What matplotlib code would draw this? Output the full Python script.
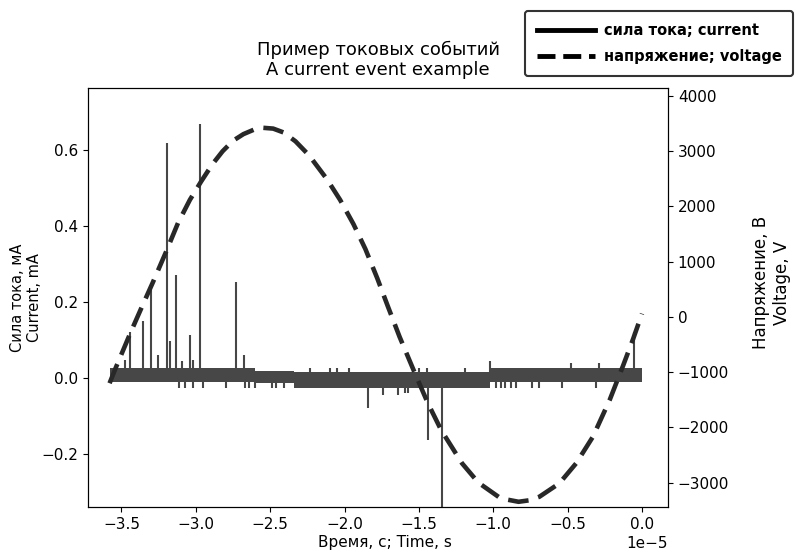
import matplotlib
matplotlib.use("Agg")
import matplotlib.pyplot as plt
from matplotlib.lines import Line2D
import numpy as np

# time in units of 1e-5 s
volt_t = [-3.58, -3.54, -3.44, -3.36, -3.29, -3.20, -3.12, -3.04, -2.965,
          -2.89, -2.82, -2.75, -2.68, -2.61, -2.546, -2.48, -2.41, -2.33,
          -2.24, -2.12, -2.03, -1.94, -1.86, -1.78, -1.71, -1.63, -1.53,
          -1.44, -1.35, -1.21, -1.10, -0.963, -0.90, -0.83, -0.76, -0.69,
          -0.556, -0.443, -0.33, -0.217, -0.127, -0.06, 0.0]
volt_v = [-1200, -930, -290, 200, 620, 1180, 1700, 2120, 2450,
          2760, 3000, 3190, 3310, 3390, 3424, 3410, 3340, 3180,
          2930, 2500, 2120, 1680, 1230, 700, 200, -360, -1000,
          -1560, -2050, -2650, -3000, -3260, -3310, -3346, -3320, -3255,
          -3013, -2650, -2168, -1500, -880, -400, 60]

# noise band of the current trace (step segments)
band_edges = [-3.58, -2.60, -2.34, -1.02, 0.0]
band_top = [0.026, 0.017, 0.014, 0.026]
band_bottom = [-0.011, -0.015, -0.027, -0.011]

# current events, mA
spike_t = [-3.474, -3.440, -3.353, -3.304, -3.252, -3.197, -3.175, -3.134,
           -3.094, -3.040, -3.021, -2.972, -2.727, -2.678,
           -2.23, -2.10, -2.05, -1.97, -1.50, -1.445, -1.19,
           -1.02, -0.48, -0.29, -0.055,
           -3.11, -3.07, -3.02, -2.95, -2.80, -2.67, -2.64, -2.60,
           -2.49, -2.46, -2.41,
           -1.845, -1.743, -1.64, -1.594, -1.574, -1.438, -1.348,
           -0.98, -0.95, -0.92, -0.88, -0.85, -0.74, -0.69, -0.54, -0.31]
spike_i = [0.047, 0.12, 0.149, 0.245, 0.06, 0.62, 0.096, 0.272,
           0.043, 0.113, 0.047, 0.668, 0.252, 0.06,
           0.026, 0.026, 0.026, 0.026, 0.026, 0.026, 0.026,
           0.043, 0.04, 0.04, 0.12,
           -0.027, -0.027, -0.027, -0.027, -0.027, -0.027, -0.027, -0.027,
           -0.027, -0.027, -0.027,
           -0.08, -0.045, -0.045, -0.04, -0.04, -0.164, -0.36,
           -0.027, -0.027, -0.027, -0.027, -0.027, -0.027, -0.027, -0.027,
           -0.027]

scale = 1e-5
cur_color = "#474747"
volt_color = "#282828"

plt.rcParams["xtick.labelsize"] = 11
plt.rcParams["ytick.labelsize"] = 11

fig = plt.figure(figsize=(7.95, 5.51), dpi=100)
ax = fig.add_axes([0.1107, 0.0799, 0.7296, 0.7604])

edges = np.array(band_edges) * scale
top = band_top + [band_top[-1]]
bot = band_bottom + [band_bottom[-1]]
ax.fill_between(edges, bot, top, step="post", color=cur_color, lw=0)
ax.vlines(np.array(spike_t) * scale, 0, spike_i, color=cur_color, lw=1.5)

ax.set_xlim(-3.725 * scale, 0.175 * scale)
ax.set_ylim(-0.341, 0.764)
ax.set_yticks([-0.2, 0.0, 0.2, 0.4, 0.6])
ax.set_xticks(np.arange(-3.5, 0.01, 0.5) * scale)
ax.xaxis.get_offset_text().set_fontsize(11)
ax.set_xlabel("Время, с; Time, s", fontsize=11)
ax.xaxis.set_label_coords(0.512, -0.066)
ax.set_ylabel("Сила тока, мА\nCurrent, mA", fontsize=10.5)
ax.yaxis.set_label_coords(-0.079, 0.5)
ax.set_title("Пример токовых событий\nA current event example",
             fontsize=13, pad=9)

ax2 = ax.twinx()
ax2.plot(np.array(volt_t) * scale, volt_v, color=volt_color, lw=3.3,
         linestyle=(0, (4.5, 2.2)))
ax2.set_ylim(-3440, 4145)
ax2.set_yticks(np.arange(-3000, 4001, 1000))
ax2.set_ylabel("Напряжение, В\nVoltage, V", fontsize=12)
ax2.yaxis.set_label_coords(1.145, 0.535)

handles = [Line2D([], [], color="black", lw=3.5),
           Line2D([], [], color="black", lw=3.5, linestyle="--")]
leg = fig.legend(handles, ["сила тока; current", "напряжение; voltage"],
                 loc="upper right", bbox_to_anchor=(0.998, 0.98),
                 borderaxespad=0, borderpad=0.8, handlelength=4.0,
                 handletextpad=0.6, labelspacing=0.8, framealpha=1,
                 fancybox=True,
                 prop={"family": "DejaVu Sans", "weight": "bold",
                       "size": 10.5})
leg.get_frame().set_edgecolor("#333333")
leg.get_frame().set_linewidth(1.5)

fig.savefig("out.png", dpi=100)
